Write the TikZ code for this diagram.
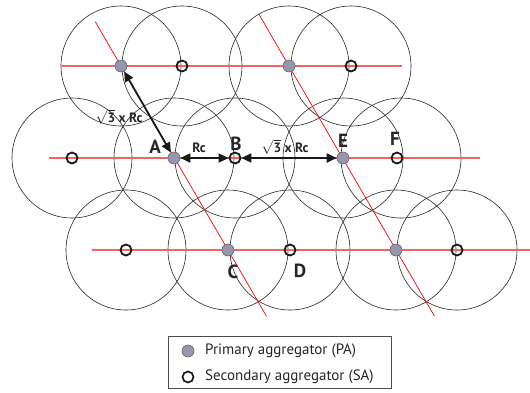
\documentclass[tikz,border=0pt]{standalone}
\usepackage{fontspec}
\setmainfont{PT Sans}
\usetikzlibrary{arrows.meta,calc}
\begin{document}
\begin{tikzpicture}[x=1pt,y=-1pt,
 cell/.style={draw=black!85,line width=0.6pt},
 hline/.style={draw={rgb,255:red,240;green,100;blue,100},line width=1.4pt},
 dline/.style={draw=red,line width=0.7pt},
 pa/.style={circle,fill={rgb,255:red,150;green,150;blue,172},draw=black!60,line width=0.6pt,minimum size=12pt,inner sep=0pt},
 sa/.style={circle,draw=black!90,line width=1.8pt,minimum size=11pt,inner sep=0pt},
 dist/.style={draw=black!90,line width=1.8pt,{Triangle[length=10pt,width=9pt]}-{Triangle[length=10pt,width=9pt]}},
 lab/.style={font=\fontsize{19}{19}\selectfont\bfseries,text=black!85,inner sep=0pt},
 dlab/.style={font=\fontsize{13.5}{13.5}\selectfont\bfseries,text=black!85,inner sep=0pt},
 legtxt/.style={font=\fontsize{15}{15}\selectfont,text=black!85,anchor=west,inner sep=0pt},
]
\useasboundingbox (0,0) rectangle (530,392);
% positions
\coordinate (p1) at (121,66);
\coordinate (s1) at (182,66);
\coordinate (p2) at (289,66);
\coordinate (s2) at (351,66);
\coordinate (s3) at (72,158);
\coordinate (pA) at (174,158);
\coordinate (sB) at (235,158);
\coordinate (pE) at (343,158);
\coordinate (sF) at (397,158);
\coordinate (s4) at (126,250);
\coordinate (pC) at (228,250);
\coordinate (sD) at (290,250);
\coordinate (p6) at (396,250);
\coordinate (s6) at (457,250);
% coverage circles
\foreach \c in {p1,s1,p2,s2,s3,pA,sB,pE,s4,pC,sD,p6,s6}
  \draw[cell] (\c) circle[radius=60pt];
\draw[cell] (401,158) circle[radius=60pt];
% red lines
\draw[hline] (62,66) -- (402,66);
\draw[hline] (49,158) -- (480,158);
\draw[hline] (92,250) -- (530,250);
\draw[dline] ($(p1)!-0.24!(pC)$) -- ($(p1)!1.36!(pC)$);
\draw[dline] ($(p2)!-0.28!(p6)$) -- ($(p2)!1.36!(p6)$);
% aggregators
\node[pa] (P1) at (p1) {};
\node[sa] (S1) at (s1) {};
\node[pa] (P2) at (p2) {};
\node[sa] (S2) at (s2) {};
\node[sa] (S3) at (s3) {};
\node[pa] (A) at (pA) {};
\node[sa] (B) at (sB) {};
\node[pa] (E) at (pE) {};
\node[sa] (F) at (sF) {};
\node[sa] (S4) at (s4) {};
\node[pa] (C) at (pC) {};
\node[sa] (D) at (sD) {};
\node[pa] (P6) at (p6) {};
\node[sa] (S6) at (s6) {};
% distances
\draw[dist] (P1) -- (A);
\draw[dist] (A) -- (B);
\draw[dist] (B) -- (E);
\node[dlab] (l1) at (119,117) {$\sqrt{\textbf{3}}$ x Rc};
\node[dlab] (l2) at (199,148) {Rc};
\node[dlab] (l3) at (285,147) {$\sqrt{\textbf{3}}$ x Rc};
% letters
\node[lab] (tA) at (155,147) {A};
\node[lab] (tB) at (236,144) {B};
\node[lab] (tE) at (343,141) {E};
\node[lab] (tF) at (395,139) {F};
\node[lab] (tC) at (233,272) {C};
\node[lab] (tD) at (300,271) {D};
% legend
\node[draw=black!70,line width=0.7pt,minimum width=223pt,minimum height=52pt,inner sep=0pt] (leg) at (279.5,362) {};
\node[pa,minimum size=12pt] (lp) at (188,351) {};
\node[sa,minimum size=11pt,line width=1.7pt] (ls) at (188,377) {};
\node[legtxt] (lpt) at (205,351) {Primary aggregator (PA)};
\node[legtxt] (lst) at (205,377) {Secondary aggregator (SA)};
\end{tikzpicture}
\end{document}
